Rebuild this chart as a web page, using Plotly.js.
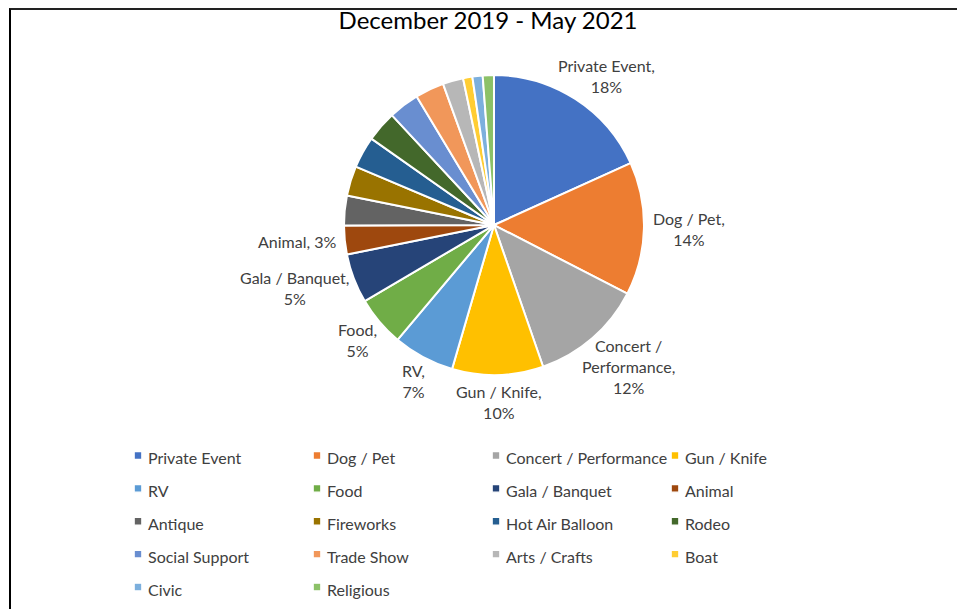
<!DOCTYPE html>
<html>
<head>
<meta charset="utf-8">
<script src="https://cdn.plot.ly/plotly-3.0.1.min.js"></script>
<style>
  html, body { margin: 0; padding: 0; background: #fff; }
  #plot { position: absolute; left: 0; top: 0; width: 957px; height: 609px; }
  #frame { position: absolute; left: 9px; top: 8px; width: 948px; height: 601px;
           border-left: 2px solid #000; border-top: 2px solid #222; pointer-events: none; }
  path.legendpie { transform: translate(30px, 0px) scale(0.64); }
</style>
</head>
<body>
<div id="plot"></div>
<div id="frame"></div>
<script>
// ---- data ----
const categories = ["Private Event", "Dog / Pet", "Concert / Performance", "Gun / Knife", "RV", "Food",
  "Gala / Banquet", "Animal", "Antique", "Fireworks", "Hot Air Balloon", "Rodeo",
  "Social Support", "Trade Show", "Arts / Crafts", "Boat", "Civic", "Religious"];
const shares = [18.2, 14.3, 12.1, 9.8, 6.6, 5.4, 5.3, 3.1, 3.2, 3.2, 3.4, 3.3, 3.3, 3.1, 2.2, 1.0, 1.1, 1.2];
// data-label names (empty = slice has no data label)
const sliceLabels = ["Private Event,<br>", "Dog / Pet,<br>", "Concert /<br>Performance,<br>", "Gun / Knife,<br>",
  "RV,<br>", "Food,<br>", "Gala / Banquet,<br>", "Animal, ", "", "", "", "", "", "", "", "", "", ""];
const colors = ["#4472C4", "#ED7D31", "#A5A5A5", "#FFC000", "#5B9BD5", "#70AD47", "#264478", "#9E480E",
  "#636363", "#997300", "#255E91", "#43682B", "#698ED0", "#F1975A", "#B7B7B7", "#FFCD33", "#7CAFDD", "#8CC168"];
const chartTitle = "December 2019 - May 2021";

const FONT = "Lato, 'Open Sans', sans-serif";
const LABEL_SIZE = 16;

// ---- geometry (layout choices) ----
const W = 957, H = 609;
const M = { l: 108, r: 109, t: 0, b: 0 };
const gsW = W - M.l - M.r, gsH = H - M.t - M.b;
const domX = [0.5216 - 0.2027, 0.5216 + 0.2027];
const domY = [0.3842, 0.8768];
const cx = M.l + gsW * (domX[0] + domX[1]) / 2;
const cy = M.t + gsH * (1 - (domY[0] + domY[1]) / 2);
const R = Math.min(gsW * (domX[1] - domX[0]), gsH * (domY[1] - domY[0])) / 2;

// ---- data labels placed at the outside end of each slice ----
const total = shares.reduce((a, b) => a + b, 0);
const ctx = document.createElement('canvas').getContext('2d');
ctx.font = LABEL_SIZE + 'px Lato';
const annotations = [];
let cum = 0;
shares.forEach((v, i) => {
  const mid = (cum + v / 2) / total * 2 * Math.PI;
  cum += v;
  if (!sliceLabels[i]) return;
  const txt = sliceLabels[i] + Math.round(v / total * 100) + '%';
  const lines = txt.split('<br>');
  const w = Math.max(...lines.map(s => ctx.measureText(s).width));
  const h = (lines.length - 1) * LABEL_SIZE * 1.3 + LABEL_SIZE;
  const s = Math.sin(mid), c = Math.cos(mid);
  const gap = 9;
  const ax = cx + (R + gap) * s;
  const ay = cy - (R + gap) * c;
  annotations.push({
    text: txt, showarrow: false,
    xref: 'paper', yref: 'paper',
    x: (ax - M.l) / gsW, y: (H - M.b - ay) / gsH,
    xanchor: 'center', yanchor: 'middle', align: 'center',
    xshift: s * w / 2, yshift: c * h / 2,
    font: { family: FONT, size: LABEL_SIZE, color: '#404040' }
  });
});

const legendNames = categories.map(c => '<span style="font-size:16px">' + c + '</span>');

const trace = {
  type: 'pie',
  labels: legendNames,
  values: shares,
  textinfo: 'none',
  sort: false,
  direction: 'clockwise',
  rotation: 0,
  marker: { colors: colors, line: { color: '#ffffff', width: 2 } },
  domain: { x: domX, y: domY },
  hoverinfo: 'label+percent'
};

const layout = {
  width: W, height: H,
  margin: M,
  paper_bgcolor: '#ffffff',
  plot_bgcolor: '#ffffff',
  font: { family: FONT, color: '#404040' },
  title: { text: chartTitle, font: { family: FONT, size: 24, color: '#000000' },
           x: 0.51, xanchor: 'center', y: 0.966, yanchor: 'middle' },
  annotations: annotations,
  showlegend: true,
  legend: {
    orientation: 'h', x: 0, xanchor: 'left', y: 0, yanchor: 'bottom',
    font: { family: FONT, size: 23, color: '#404040' },
    entrywidth: 134, entrywidthmode: 'pixels',
    traceorder: 'normal', bgcolor: 'rgba(0,0,0,0)'
  }
};

Plotly.newPlot('plot', [trace], layout, { displayModeBar: false, staticPlot: true });
</script>
</body>
</html>
